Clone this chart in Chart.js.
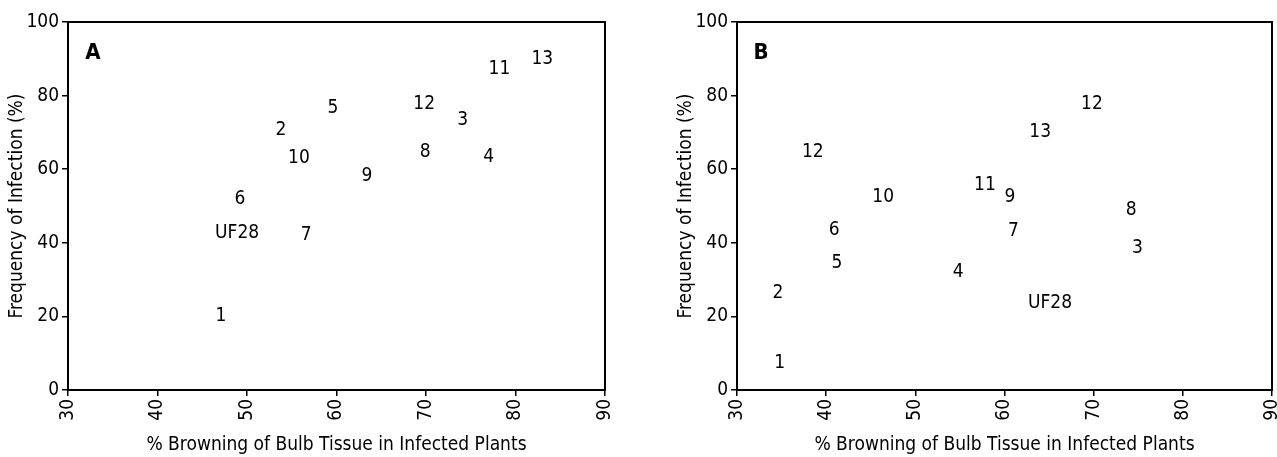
<!DOCTYPE html>
<html>
<head>
<meta charset="utf-8">
<script src="https://cdn.jsdelivr.net/npm/chart.js@4/dist/chart.umd.min.js"></script>
<style>
  html, body { margin: 0; padding: 0; background: #fff; }
  #wrap { position: relative; width: 1277px; height: 457px; overflow: hidden; }
  canvas { position: absolute; top: 0; }
</style>
</head>
<body>
<div id="wrap">
  <canvas id="cA" width="637" height="457" style="left:0;width:637px;height:457px"></canvas>
  <canvas id="cB" width="608" height="457" style="left:669px;width:608px;height:457px"></canvas>
</div>
<script>
// Cultivar / line labels and their positions (browning %, infection %)
const labelsA = ['13', '11', '12', '3', '5', '2', '10', '8', '4', '9', '6', 'UF28', '7', '1'];
const browningA = [83.0, 78.2, 69.8, 74.1, 59.6, 53.8, 55.8, 69.9, 77.0, 63.4, 49.2, 48.9, 56.6, 47.1];
const infectionA = [89.9, 87.2, 77.7, 73.4, 76.6, 70.7, 63.0, 64.7, 63.3, 58.2, 51.9, 42.7, 42.1, 20.1];

const labelsB = ['12', '13', '12', '10', '11', '9', '8', '6', '7', '3', '5', '4', '2', 'UF28', '1'];
const browningB = [69.8, 64.0, 38.5, 46.4, 57.8, 60.6, 74.2, 40.9, 61.0, 74.9, 41.2, 54.8, 34.6, 65.1, 34.8];
const infectionB = [77.7, 70.1, 64.7, 52.4, 55.7, 52.4, 48.9, 43.5, 43.2, 38.6, 34.5, 32.1, 26.4, 23.6, 7.3];

const xTicks = [30, 40, 50, 60, 70, 80, 90];
const yTicks = [0, 20, 40, 60, 80, 100];

const xTitle = '% Browning of Bulb Tissue in Infected Plants';
const yTitle = 'Frequency of Infection (%)';

const FONT = '"Liberation Sans Narrow", "DejaVu Sans Condensed", "Roboto Condensed", Arial, sans-serif';

// Draws each point's label at its scaled position, plus the frame and panel letter
const textMarks = {
  id: 'textMarks',
  afterDatasetsDraw(chart, args, opts) {
    const ctx = chart.ctx;
    const area = chart.chartArea;
    ctx.save();
    // frame around the plotting area
    ctx.strokeStyle = '#000';
    ctx.lineWidth = 2;
    ctx.strokeRect(area.left, area.top, area.right - area.left, area.bottom - area.top);
    // point labels
    ctx.fillStyle = '#000';
    ctx.font = '19px ' + FONT;
    ctx.textAlign = 'center';
    ctx.textBaseline = 'middle';
    const meta = chart.getDatasetMeta(0);
    const names = chart.data.datasets[0].pointNames;
    meta.data.forEach((pt, i) => {
      ctx.fillText(names[i], pt.x, pt.y);
    });
    // panel letter
    ctx.font = 'bold 22px ' + FONT;
    ctx.fillText(opts.letter, area.left + opts.letterDx, area.top + 31);
    ctx.restore();
  }
};

function makePanel(id, letter, letterDx, names, xs, ys, rightPad) {
  const axisFont = { family: FONT, size: 19 };
  return new Chart(document.getElementById(id), {
    type: 'scatter',
    data: {
      datasets: [{
        data: xs.map((x, i) => ({ x: x, y: ys[i] })),
        pointNames: names,
        pointRadius: 0,
        pointHoverRadius: 0
      }]
    },
    options: {
      responsive: false,
      animation: false,
      devicePixelRatio: 1,
      events: [],
      layout: { padding: { left: 0, right: rightPad, top: 22, bottom: 0 } },
      plugins: {
        legend: { display: false },
        tooltip: { enabled: false },
        textMarks: { letter: letter, letterDx: letterDx }
      },
      scales: {
        x: {
          type: 'linear',
          min: 30, max: 90,
          afterBuildTicks: s => { s.ticks = xTicks.map(v => ({ value: v })); },
          afterFit: s => { s.height = 67; s.paddingLeft = 0; s.paddingRight = 0; },
          ticks: {
            color: '#000', font: axisFont, padding: 3,
            minRotation: 90, maxRotation: 90, autoSkip: false
          },
          grid: { drawOnChartArea: false, drawTicks: true, tickLength: 6, color: '#000', lineWidth: 1.5 },
          border: { display: true, color: '#000', width: 2 },
          title: { display: true, text: xTitle, color: '#000', font: axisFont, padding: { top: 0, bottom: 1 } }
        },
        y: {
          type: 'linear',
          min: 0, max: 100,
          afterBuildTicks: s => { s.ticks = yTicks.map(v => ({ value: v })); },
          afterFit: s => { s.width = 68; s.paddingTop = 0; s.paddingBottom = 0; },
          ticks: { color: '#000', font: axisFont, padding: 3 },
          grid: { drawOnChartArea: false, drawTicks: true, tickLength: 6, color: '#000', lineWidth: 1.5 },
          border: { display: true, color: '#000', width: 2 },
          title: { display: true, text: yTitle, color: '#000', font: axisFont, padding: { top: 6, bottom: 0 } }
        }
      }
    },
    plugins: [textMarks]
  });
}

makePanel('cA', 'A', 25, labelsA, browningA, infectionA, 32);
makePanel('cB', 'B', 24, labelsB, browningB, infectionB, 5);
</script>
</body>
</html>
